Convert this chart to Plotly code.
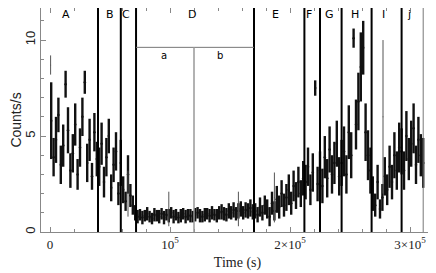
import numpy as np
import plotly.graph_objects as go

# light curve, 2 ks bins (bin centres in s)
time = np.arange(1000, 312000, 2000)

rate_A = [5.8, 3.9, 4.8, 6.1, 3.5, 4.5, 7.7, 5.3, 3.2, 4.1,
          5.6, 3.0, 4.4, 6.0, 7.8, 3.6, 4.8, 2.9, 5.2, 3.8]
err_A = [2.0, 1.0, 1.2, 0.9, 1.0, 1.1, 0.7, 1.2, 0.9, 1.0,
         1.1, 0.8, 1.0, 1.0, 0.6, 1.0, 1.1, 0.7, 1.0, 0.9]
rate_B = [3.4, 4.6, 2.6, 3.9, 5.0, 2.3, 3.5, 4.2, 2.0]
err_B = [1.0, 1.1, 0.8, 1.0, 0.9, 0.7, 0.9, 1.0, 0.6]
rate_C = [3.6, 2.2, 1.6, 3.0, 1.9, 1.4, 1.0]
err_C = [1.2, 0.7, 0.5, 1.0, 0.6, 0.5, 0.4]
rate_D = [0.8, 0.9, 0.75, 0.85, 0.95, 0.8, 0.7, 0.9, 0.85, 0.8,
          0.95, 0.75, 0.9, 0.85, 1.0, 0.8, 0.9, 0.75, 0.85, 0.95,
          0.8, 0.9, 0.85, 0.8, 0.9, 1.0, 0.85, 0.8, 0.9, 0.95,
          0.85, 1.0, 0.9, 0.85, 1.0, 1.05, 0.95, 0.9, 1.1, 1.0,
          1.15, 0.95, 1.1, 1.2, 1.0, 1.15, 1.1, 1.25, 1.05]
err_D = [0.35, 0.3, 0.35, 0.3, 0.35, 0.3, 0.3, 0.35, 0.3, 0.35,
         0.3, 0.35, 0.3, 0.35, 0.3, 0.35, 0.3, 0.3, 0.35, 0.3,
         0.35, 0.3, 0.35, 0.3, 0.35, 0.3, 0.35, 0.3, 0.35, 0.3,
         0.35, 0.35, 0.3, 0.35, 0.35, 0.4, 0.35, 0.35, 0.4, 0.35,
         0.4, 0.35, 0.4, 0.4, 0.35, 0.4, 0.4, 0.45, 0.4]
rate_E = [1.1, 0.9, 1.3, 1.0, 1.4, 1.2, 0.8, 1.5, 1.1, 1.7,
          1.3, 2.0, 1.4, 1.8, 2.2, 1.5, 2.4, 1.9, 2.6, 2.0, 2.8]
err_E = [0.4, 0.4, 0.5, 0.4, 0.5, 0.5, 0.5, 0.6, 0.5, 0.7,
         0.6, 0.7, 0.6, 0.7, 0.8, 0.6, 0.8, 0.7, 0.8, 0.7, 0.9]
rate_F = [2.6, 3.4, 2.2, 3.1, 7.5, 2.5]
err_F = [0.9, 1.0, 0.8, 1.0, 0.4, 0.9]
rate_G = [3.2, 2.4, 3.9, 2.8, 4.3, 3.0, 3.6, 4.6, 2.9]
err_G = [1.0, 0.9, 1.1, 1.0, 1.2, 1.0, 1.1, 1.2, 1.0]
rate_H = [3.6, 4.2, 3.0, 5.2, 4.0, 10.1, 5.6, 6.8, 8.6, 9.6, 5.2, 4.0, 3.2]
err_H = [1.2, 1.3, 1.0, 1.4, 1.2, 0.5, 1.3, 1.5, 1.8, 1.4, 1.5, 1.3, 1.2]
rate_I = [2.0, 1.4, 2.6, 1.2, 1.8, 2.9, 2.2, 3.4, 2.6, 4.0, 3.2, 4.4]
err_I = [0.9, 0.6, 0.9, 0.5, 0.7, 1.0, 0.8, 1.1, 0.9, 1.2, 1.0, 1.3]
rate_J = [4.2, 3.2, 5.0, 3.8, 4.6, 5.4, 3.5, 4.8, 4.0, 3.6]
err_J = [1.2, 1.0, 1.3, 1.1, 1.2, 1.3, 1.0, 1.2, 1.1, 1.3]

# isolated points with very large error bars
spike_t = [500, 65000, 99000, 157000, 187000, 277500]
spike_rate = [8.7, 2.0, 1.2, 1.2, 1.8, 6.0]
spike_err = [0.5, 1.2, 0.9, 0.9, 1.3, 4.0]

# interval boundaries and labels
bounds = [40000, 59000, 71700, 170000, 212000, 225000, 243000, 268000, 293000]
end_time = 311000
sub_bound = 120000
sub_level = 9.62
labels = ["A", "B", "C", "D", "E", "F", "G", "H", "I", "j"]
label_t = [13300, 50000, 63300, 118000, 187500, 216000, 232500, 254000, 278000, 299000]
sub_labels = ["a", "b"]
sub_label_t = [95000, 142000]

rate = rate_A + rate_B + rate_C + rate_D + rate_E + rate_F + rate_G + rate_H + rate_I + rate_J
err = err_A + err_B + err_C + err_D + err_E + err_F + err_G + err_H + err_I + err_J

fig = go.Figure()

fig.add_trace(go.Scatter(
    x=time, y=rate, mode='markers',
    marker=dict(size=2.5, color='#111111'),
    error_y=dict(type='data', array=err, width=0, thickness=2.4, color='#111111'),
    showlegend=False, hoverinfo='skip'
))
fig.add_trace(go.Scatter(
    x=spike_t, y=spike_rate, mode='markers',
    marker=dict(size=1, color='#555555'),
    error_y=dict(type='data', array=spike_err, width=0, thickness=1, color='#555555'),
    showlegend=False, hoverinfo='skip'
))

for b in bounds:
    fig.add_shape(type='line', xref='x', yref='paper', x0=b, x1=b, y0=0, y1=1,
                  line=dict(color='black', width=2))
fig.add_shape(type='line', xref='x', yref='paper', x0=end_time, x1=end_time, y0=0, y1=1,
              line=dict(color='#777777', width=1))
fig.add_shape(type='line', xref='x', yref='y', x0=bounds[2], x1=bounds[3],
              y0=sub_level, y1=sub_level, line=dict(color='#777777', width=1))
fig.add_shape(type='line', xref='x', yref='y', x0=sub_bound, x1=sub_bound,
              y0=0, y1=sub_level, line=dict(color='#999999', width=1.5))

for lab, t in zip(labels, label_t):
    fig.add_annotation(x=t, y=11.35, text=lab, showarrow=False,
                       font=dict(family='DejaVu Sans', size=11, color='black'))
for lab, t in zip(sub_labels, sub_label_t):
    fig.add_annotation(x=t, y=9.2, text=lab, showarrow=False,
                       font=dict(family='DejaVu Sans', size=10, color='black'))

# the page body adds an 8 px offset, so the figure is 8 px smaller
axis_col = '#888888'
fig.update_layout(
    width=428, height=265,
    margin=dict(l=33, r=2, t=0, b=41),
    plot_bgcolor='white', paper_bgcolor='white',
    showlegend=False,
)
fig.update_xaxes(
    range=[-7500, 320000], showgrid=False, zeroline=False, automargin=False,
    showline=True, linecolor=axis_col, linewidth=1, mirror='allticks',
    ticks='inside', ticklen=5, tickcolor=axis_col,
    tickvals=[0, 100000, 200000, 300000],
    ticktext=['0', '10<sup>5</sup>', '2×10<sup>5</sup>', '3×10<sup>5</sup>'],
    tickfont=dict(family='Liberation Serif', size=13, color='#222222'),
    minor=dict(dtick=20000, tick0=0, ticks='inside', ticklen=3, tickcolor=axis_col),
    title=dict(text='Time (s)', font=dict(family='Liberation Serif', size=14, color='#222222'),
               standoff=6),
)
fig.update_yaxes(
    range=[0, 11.67], showgrid=False, zeroline=False, automargin=False,
    showline=True, linecolor=axis_col, linewidth=1, mirror='allticks',
    ticks='inside', ticklen=5, tickcolor=axis_col,
    tickvals=[0, 5, 10], tickangle=-90,
    tickfont=dict(family='Liberation Sans', size=13, color='#222222'),
    minor=dict(dtick=1, tick0=0, ticks='inside', ticklen=3, tickcolor=axis_col),
    title=dict(text='Counts/s', font=dict(family='Liberation Sans', size=14, color='#222222'),
               standoff=0),
)

fig.write_html('out.html')
